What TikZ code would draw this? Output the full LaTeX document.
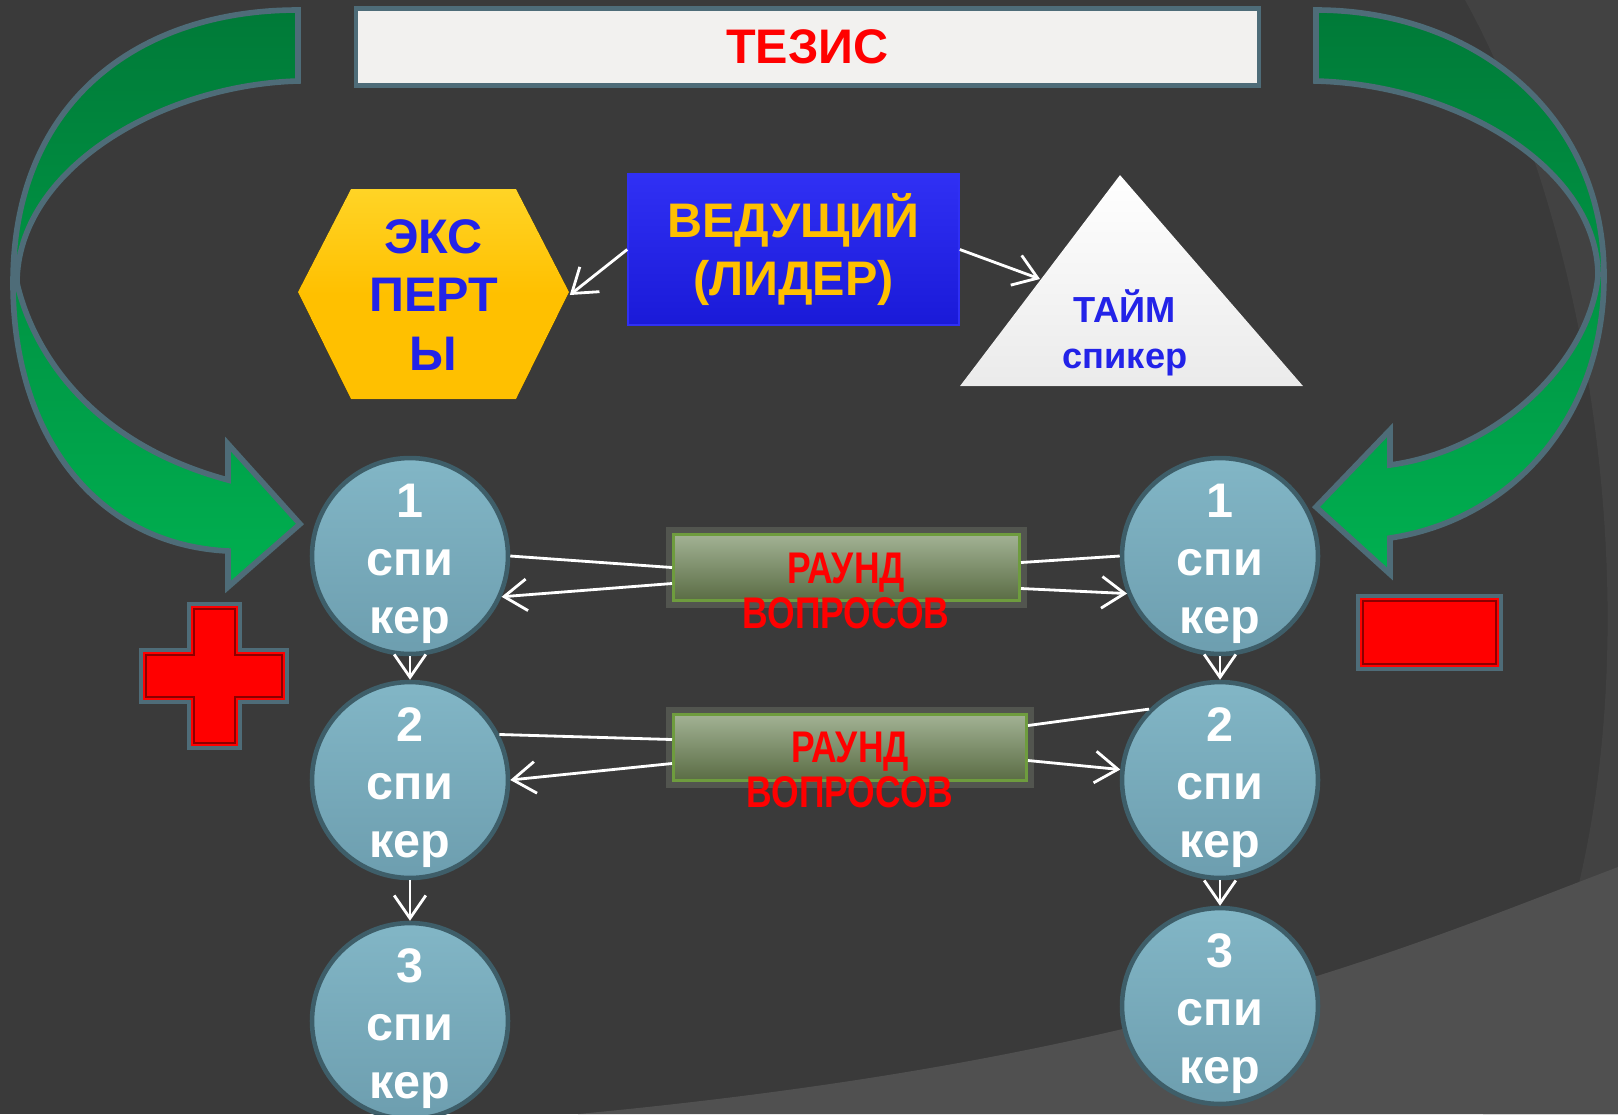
\documentclass[tikz,border=0pt]{standalone}
\usepackage{fontspec}
\setmainfont{Liberation Sans}
\newfontfamily\narrowfont[FakeStretch=0.8]{Liberation Sans}
\usetikzlibrary{arrows.meta,calc}

\definecolor{bgcol}{HTML}{3A3A3A}
\definecolor{bgarc}{HTML}{424242}
\definecolor{bgfoot}{HTML}{505050}
\definecolor{edgecol}{HTML}{4E6C78}
\definecolor{thesisfill}{HTML}{F2F1EF}
\definecolor{txtblue}{HTML}{2323E8}
\definecolor{gold}{HTML}{FFC000}
\definecolor{goldtop}{HTML}{FFD426}
\definecolor{leadtop}{HTML}{3030F4}
\definecolor{leadbot}{HTML}{1A1AD8}
\definecolor{spktop}{HTML}{82B6C6}
\definecolor{spkbot}{HTML}{6D9EAF}
\definecolor{rim}{HTML}{3E5E69}
\definecolor{roundtop}{HTML}{A2B294}
\definecolor{roundbot}{HTML}{5A6C44}
\definecolor{roundedge}{HTML}{6E9C3E}
\definecolor{glowcol}{HTML}{8A9580}
\definecolor{arrowtop}{HTML}{007A38}
\definecolor{arrowbot}{HTML}{00B050}
\definecolor{darkred}{HTML}{8B0000}

\newcommand{\bigtxt}{\fontsize{13.8}{16.6}\selectfont\bfseries}
\newcommand{\smalltxt}{\fontsize{10.3}{13}\selectfont\bfseries}
\newcommand{\roundtxt}{\narrowfont\fontsize{12.6}{12.8}\selectfont\bfseries}
\newcommand{\spktxt}[1]{\rule{0pt}{14pt}#1\\спи\\кер}

\tikzset{
  spk/.style={circle, minimum size=1.94cm, inner sep=0pt, draw=rim, line width=1.3pt,
    top color=spktop, bottom color=spkbot, text=white, font=\bigtxt, align=center},
  roundbox/.style={rectangle, minimum height=0.66cm, inner sep=0pt, draw=roundedge,
    line width=0.8pt, top color=roundtop, bottom color=roundbot,
    preaction={draw=glowcol, line width=4pt, opacity=.3}},
  roundlbl/.style={text=red, font=\roundtxt, align=center, inner sep=0pt},
  wire/.style={draw=white, line width=0.8pt},
  link/.style={wire, -{Straight Barb[length=6.5pt,width=9pt]}},
  greenarrow/.style={draw=edgecol, line width=1.6pt, top color=arrowtop, bottom color=arrowbot},
  sign/.style={fill=red, draw=edgecol, line width=1.2pt}
}

\begin{document}
\begin{tikzpicture}[x=0.01cm, y=-0.01cm]
	\useasboundingbox (0,0) rectangle (1618,1114);
	% background
	\fill[bgcol] (0,0) rectangle (1618,1114);
	\fill[bgarc] (1465,0) .. controls (1620,280) and (1680,820) .. (1483,1114) -- (1618,1114) -- (1618,0) -- cycle;
	\fill[bgfoot] (1618,867) .. controls (1400,950) and (1150,1060) .. (578,1114) -- (1618,1114) -- cycle;
	%
	% curved arrows
	\path[greenarrow] (298,10) .. controls (140,10) and (13,100) .. (13,283)
		.. controls (13,440) and (100,545) .. (228,551) -- (228,587) -- (300,524) -- (228,444) -- (228,480)
		.. controls (80,440) and (30,340) .. (17,283) .. controls (17,170) and (160,85) .. (298,81) -- cycle;
	\path[greenarrow] (1316,10) .. controls (1470,10) and (1604,110) .. (1604,276)
		.. controls (1604,420) and (1510,520) .. (1390,538) -- (1390,574) -- (1316,507) -- (1390,430) -- (1390,465)
		.. controls (1500,450) and (1590,360) .. (1598,276) .. controls (1598,170) and (1460,85) .. (1316,81) -- cycle;
	%
	\node[fill=thesisfill, draw=edgecol, line width=1.2pt, minimum width=9.03cm, minimum height=0.77cm,
		text=red, font=\bigtxt] (thesis) at (807.5,47) {ТЕЗИС};
	%
	\fill[top color=goldtop, bottom color=gold, middle color=gold]
		(298,292) -- (351,189) -- (516,189) -- (569,292) -- (516,399) -- (351,399) -- cycle;
	\node[minimum width=2.71cm, minimum height=2.1cm, text=txtblue, font=\bigtxt, align=center]
		(experts) at (433.5,295) {ЭКС\\ПЕРТ\\Ы};
	%
	\node[top color=leadtop, bottom color=leadbot, draw=leadtop, minimum width=3.31cm, minimum height=1.51cm,
		text=gold, font=\bigtxt, align=center] (leader) at (793.5,249.5) {ВЕДУЩИЙ\\(ЛИДЕР)};
	%
	\fill[top color=white, bottom color=white!92!black] (1120,175) -- (1303,386) -- (960,386) -- cycle;
	\node[text=txtblue, font=\smalltxt, align=center] (timer) at (1125,333) {ТАЙМ\\спикер};
	\coordinate (timerin) at (1040,279);
	%
	\draw[link] (leader.west) -- (experts.east);
	\draw[link] (leader.east) -- (timerin);
	%
	% speakers
	\node[spk] (c1l) at (410,556) {\spktxt{1}};
	\node[spk] (c2l) at (410,780) {\spktxt{2}};
	\node[spk] (c3l) at (410,1021) {\spktxt{3}};
	\node[spk] (c1r) at (1220,556) {\spktxt{1}};
	\node[spk] (c2r) at (1220,780) {\spktxt{2}};
	\node[spk] (c3r) at (1220,1006) {\spktxt{3}};
	%
	\draw[link] (c1l) -- (c2l);
	\draw[link] (c2l) -- (c3l);
	\draw[link] (c1r) -- (c2r);
	\draw[link] (c2r) -- (c3r);
	%
	% rounds
	\node[roundbox, minimum width=3.46cm] (r1) at (846.5,567.5) {};
	\node[roundbox, minimum width=3.53cm] (r2) at (850,747.5) {};
	\node[roundlbl] (r1txt) at (846,591) {РАУНД\\ВОПРОСОВ};
	\node[roundlbl] (r2txt) at (850,770) {РАУНД\\ВОПРОСОВ};
	%
	\draw[wire] (c1l.east) -- (r1.west);
	\draw[link] ($(r1.west)+(0,16)$) -- (c1l.-24);
	\draw[wire] ($(r1.east)+(0,-5)$) -- (c1r.west);
	\draw[link] ($(r1.east)+(0,21)$) -- (c1r.-158);
	\draw[wire] (c2l.27) -- ($(r2.west)+(0,-8)$);
	\draw[link] ($(r2.west)+(0,16)$) -- (c2l.east);
	\draw[wire] ($(r2.east)+(0,-22)$) -- (c2r.135);
	\draw[link] ($(r2.east)+(0,13)$) -- (c2r.174);
	%
	% plus and minus
	\path[sign] (189,604) -- (240,604) -- (240,650) -- (287,650) -- (287,702) -- (240,702) -- (240,748)
		-- (189,748) -- (189,702) -- (141,702) -- (141,650) -- (189,650) -- cycle;
	\draw[darkred, line width=0.8pt] (194,609) -- (235,609) -- (235,655) -- (282,655) -- (282,697) -- (235,697)
		-- (235,743) -- (194,743) -- (194,697) -- (146,697) -- (146,655) -- (194,655) -- cycle;
	\path[sign] (1358,596) rectangle (1501,669);
	\draw[darkred, line width=0.8pt] (1363,601) rectangle (1496,664);
\end{tikzpicture}
\end{document}
